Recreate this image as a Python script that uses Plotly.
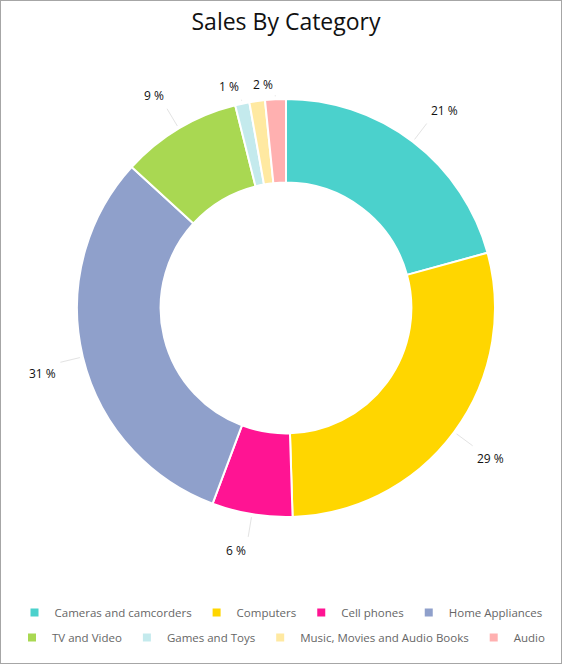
import math
import plotly.graph_objects as go

# sales share per category
categories = ["Cameras and camcorders", "Computers", "Cell phones", "Home Appliances",
              "TV and Video", "Games and Toys", "Music, Movies and Audio Books", "Audio"]
sales = [20.7, 28.7, 6.2, 31.0, 9.3, 1.1, 1.2, 1.6]
colors = ["#4bd1cc", "#ffd600", "#ff1493", "#8fa0cb", "#a9d852", "#c4eaed", "#ffe9a1", "#ffb0b0"]
show_label = [True, True, True, True, True, True, False, True]     # the tiny music slice has its label hidden

W, H = 562, 664
cx, cy, R = 286, 308, 209                                            # pie centre and outer radius in pixels


def px_to_paper(x, y):
    return x / W, 1 - y / H


fig = go.Figure(go.Pie(
    labels=categories, values=sales,
    marker=dict(colors=colors, line=dict(color="white", width=2)),
    hole=0.6, sort=False, direction="clockwise", rotation=0,
    textinfo="none", hoverinfo="label+percent", showlegend=False,
    domain=dict(x=[(cx - R) / W, (cx + R) / W], y=[1 - (cy + R) / H, 1 - (cy - R) / H]),
))

# legend entries as marker-only dummy traces, split over two centred rows (4 + 4)
for i, (name, col) in enumerate(zip(categories, colors)):
    fig.add_trace(go.Scatter(
        x=[None], y=[None], mode="markers", name=name, hoverinfo="skip",
        marker=dict(symbol="square", size=8, color=col),
        legend="legend" if i < 4 else "legend2",
    ))

# outside labels with thin leader lines, placed from each slice's mid angle
total = sum(sales)
cum = 0
shapes, annotations = [], []
for v, show in zip(sales, show_label):
    mid = (cum + v / 2) / total * 2 * math.pi
    cum += v
    if not show:
        continue
    s, c = math.sin(mid), -math.cos(mid)
    r1, r2 = R + 3, R + 23
    if cy + r2 * c < 104:                                            # keep labels below the title
        r2 = max(R + 4, (104 - cy) / c)
    x1, y1 = cx + r1 * s, cy + r1 * c
    x2, y2 = cx + r2 * s, cy + r2 * c
    x0p, y0p = px_to_paper(x1, y1)
    x1p, y1p = px_to_paper(x2, y2)
    shapes.append(dict(type="line", xref="paper", yref="paper", x0=x0p, y0=y0p, x1=x1p, y1=y1p,
                       line=dict(color="#e3e3e3", width=1)))
    tx, ty = x2 + 3 * s, y2 + 3 * c
    if c < 0:
        ty = max(ty, 95)                                             # top labels share one baseline band
    ax, ay = px_to_paper(tx, ty)
    annotations.append(dict(
        text=f"{round(v / total * 100)} %", xref="paper", yref="paper", x=ax, y=ay,
        xanchor="left" if s > 0 else "right", yanchor="bottom" if c < 0 else "top",
        showarrow=False, font=dict(size=12, color="#111")))

shapes.append(dict(type="rect", xref="paper", yref="paper", x0=0, y0=0, x1=1, y1=1,
                   line=dict(color="#a6a6a6", width=2)))                 # frame round the chart

legend_style = dict(orientation="h", x=0.5, xanchor="center", yanchor="top",
                    font=dict(size=11.5, color="#666"), itemwidth=30, bgcolor="rgba(0,0,0,0)",
                    itemclick=False, itemdoubleclick=False)

fig.update_layout(
    width=W, height=H,
    margin=dict(l=0, r=0, t=0, b=0, autoexpand=False),              # don't let the legends squeeze the pie
    paper_bgcolor="white", plot_bgcolor="white",
    font=dict(family="Open Sans, sans-serif"),
    title=dict(text="Sales By Category", x=cx / W, xanchor="center", y=1 - 22 / H, yanchor="middle",
               font=dict(size=23, color="#111")),
    xaxis=dict(visible=False), yaxis=dict(visible=False),
    legend=dict(legend_style, y=1 - 598 / H),
    legend2=dict(legend_style, y=1 - 623 / H),
    shapes=shapes,
    annotations=annotations,
)

# drop the page's default body margin so the figure sits at the window corner
fig.write_html("out.html", config={"displayModeBar": False},
               post_script="document.body.style.margin='0';document.body.style.overflow='hidden';")
